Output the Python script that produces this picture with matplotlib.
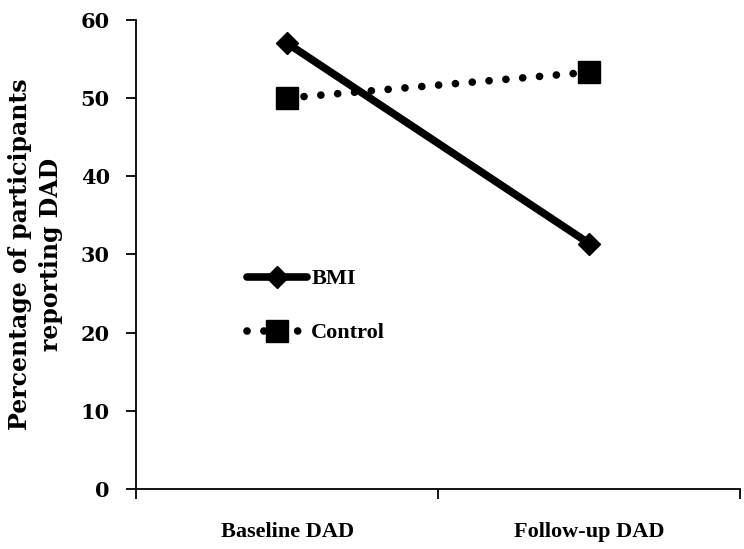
import matplotlib.pyplot as plt

# data
categories = ['Baseline DAD', 'Follow-up DAD']
bmi = [57.0, 31.4]
control = [50.0, 53.3]
y_ticks = [0, 10, 20, 30, 40, 50, 60]

plt.rcParams['font.family'] = ['DejaVu Serif']
plt.rcParams['font.weight'] = 'bold'

fig = plt.figure(figsize=(7.44, 5.49), dpi=100)
ax = fig.add_axes([0.183, 0.109, 0.812, 0.855])

x = list(range(len(categories)))

# BMI: thick solid line with diamond markers
ax.plot(x, bmi, color='black', linewidth=5.5, marker='D', markersize=11,
        solid_capstyle='round', label='BMI', zorder=3)
# Control: round-dotted line with square markers
ax.plot(x, control, color='black', linewidth=5.5, linestyle=(0, (0.01, 2.2)),
        dash_capstyle='round', marker='s', markersize=16, label='Control', zorder=3)

ax.set_xlim(-0.5, len(categories) - 0.5)
ax.set_ylim(0, 60)
ax.set_yticks(y_ticks)

# category ticks sit between categories, labels at the centres
ax.set_xticks([-0.5, 0.5, 1.5])
ax.set_xticklabels([])
ax.set_xticks(x, minor=True)
ax.set_xticklabels(categories, minor=True, fontsize=16, fontweight='bold',
                   family='Liberation Serif')
ax.tick_params(axis='x', which='minor', length=0, pad=24)
ax.tick_params(axis='x', which='major', direction='out', length=7, width=1.3)
ax.tick_params(axis='y', direction='out', length=7, width=1.3, labelsize=15, pad=12)
for lab in ax.get_yticklabels():
    lab.set_fontweight('bold')

ax.spines['top'].set_visible(False)
ax.spines['right'].set_visible(False)
ax.spines['left'].set_linewidth(1.3)
ax.spines['bottom'].set_linewidth(1.3)

ax.set_ylabel('Percentage of participants\nreporting DAD', fontsize=17,
              fontweight='bold', labelpad=13, linespacing=1.35)

ax.legend(loc='center left', bbox_to_anchor=(0.15, 0.39), frameon=False,
          handlelength=2.7, handletextpad=0.2, labelspacing=1.5,
          prop={'weight': 'bold', 'size': 16, 'family': 'Liberation Serif'})

fig.savefig('out.png', dpi=100)
